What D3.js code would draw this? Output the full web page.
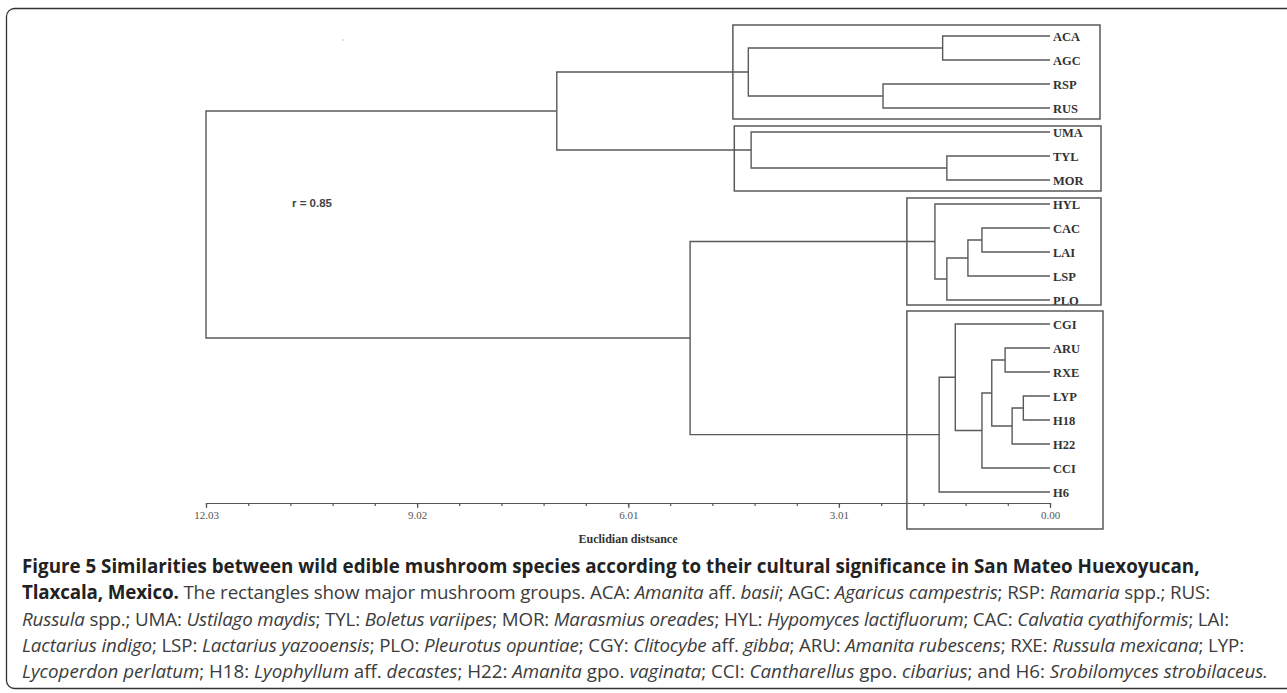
<!DOCTYPE html>
<html>
<head>
<meta charset="utf-8">
<script src="https://cdn.jsdelivr.net/npm/d3@7"></script>
<style>
body { margin: 0; background: #fff; }
</style>
</head>
<body>
<div id="chart"></div>
<script>
// leaves, top to bottom
var leaves = ["ACA", "AGC", "RSP", "RUS", "UMA", "TYL", "MOR", "HYL", "CAC", "LAI",
              "LSP", "PLO", "CGI", "ARU", "RXE", "LYP", "H18", "H22", "CCI", "H6"];

// merge i joins mergeA[i] and mergeB[i] (a leaf or an earlier merge "n#") at mergeDist[i]
var mergeA = ["ACA", "RSP", "n0", "TYL", "UMA", "n2", "CAC", "n6", "n7", "HYL",
              "ARU", "LYP", "n11", "n10", "n13", "CGI", "n15", "n9", "n5"];
var mergeB = ["AGC", "RUS", "n1", "MOR", "n3", "n4", "LAI", "LSP", "PLO", "n8",
              "RXE", "H18", "H22", "n12", "CCI", "n14", "H6", "n16", "n17"];
var mergeDist = [1.53, 2.38, 4.30, 1.47, 4.26, 7.03, 0.97, 1.17, 1.47, 1.64,
                 0.64, 0.38, 0.54, 0.83, 0.97, 1.35, 1.58, 5.13, 12.03];

var tickValues = [12.03, 9.02, 6.01, 3.01, 0];
var tickLabels = ["12.03", "9.02", "6.01", "3.01", "0.00"];

// the rectangles around the major groups
var groupFirst = ["ACA", "UMA", "HYL", "CGI"];
var groupLast = ["RUS", "MOR", "PLO", "H6"];
var groupDist = [4.52, 4.50, 2.04, 2.04];

var width = 1287, height = 693;

var svg = d3.select("#chart")
  .append("svg")
  .attr("width", width)
  .attr("height", height);

// outer frame of the figure (runs off the right edge)
svg.append("rect")
  .attr("x", 6.5).attr("y", 8.5)
  .attr("width", 1320).attr("height", 680)
  .attr("rx", 8)
  .attr("fill", "none")
  .attr("stroke", "#333")
  .attr("stroke-width", 1.3);

var xScale = d3.scaleLinear().domain([12.03, 0]).range([206, 1050]);
var yScale = d3.scalePoint().domain(leaves).range([36, 492]);

// dendrogram branches
var pos = {};
leaves.forEach(function(l) { pos[l] = { y: yScale(l), d: 0 }; });

var tree = svg.append("g")
  .attr("fill", "none")
  .attr("stroke", "#5a5a5a")
  .attr("stroke-width", 1.4);

mergeDist.forEach(function(d, i) {
  var a = pos[mergeA[i]], b = pos[mergeB[i]];
  tree.append("path")
    .attr("d", "M" + xScale(a.d) + "," + a.y + "H" + xScale(d) + "V" + b.y + "H" + xScale(b.d));
  pos["n" + i] = { y: (a.y + b.y) / 2, d: d };
});

// leaf labels
svg.selectAll(".leaf")
  .data(leaves)
  .enter().append("text")
  .attr("class", "leaf")
  .attr("x", 1053)
  .attr("y", function(d) { return yScale(d) + 4.5; })
  .attr("font-family", "Liberation Serif")
  .attr("font-weight", "bold")
  .attr("font-size", "12.5px")
  .attr("fill", "#333")
  .text(function(d) { return d; });

// group rectangles
var padTop = [11, 6, 6, 13], padBottom = [11, 11, 5, 37], boxRight = [1100, 1101, 1101, 1103];
groupDist.forEach(function(d, i) {
  var x0 = xScale(d);
  var y0 = yScale(groupFirst[i]) - padTop[i];
  var y1 = yScale(groupLast[i]) + padBottom[i];
  svg.append("rect")
    .attr("x", x0).attr("y", y0)
    .attr("width", boxRight[i] - x0).attr("height", y1 - y0)
    .attr("fill", "none")
    .attr("stroke", "#5a5a5a")
    .attr("stroke-width", 1.5);
});

// x axis: minor ticks then labelled ticks
var axisY = 503;
var minorTicks = d3.range(21).map(function(i) { return i * 12.03 / 20; });

svg.append("g")
  .attr("transform", "translate(0," + axisY + ")")
  .call(d3.axisBottom(xScale).tickValues(minorTicks).tickSize(3).tickSizeOuter(0).tickFormat(""));

var gX = svg.append("g")
  .attr("transform", "translate(0," + axisY + ")")
  .call(d3.axisBottom(xScale).tickValues(tickValues).tickSize(5).tickSizeOuter(0).tickPadding(3)
    .tickFormat(function(d, i) { return tickLabels[i]; }));

svg.selectAll(".domain, .tick line")
  .attr("stroke", "#555")
  .attr("stroke-width", 1.2);
gX.selectAll("text")
  .attr("font-family", "Liberation Serif")
  .attr("font-size", "11px")
  .attr("fill", "#555");

svg.append("text")
  .attr("x", (xScale(12.03) + xScale(0)) / 2)
  .attr("y", 543)
  .attr("text-anchor", "middle")
  .attr("font-family", "Liberation Serif")
  .attr("font-weight", "bold")
  .attr("font-size", "12px")
  .attr("fill", "#333")
  .text("Euclidian distsance");

svg.append("text")
  .attr("x", 292)
  .attr("y", 207)
  .attr("font-family", "Liberation Sans")
  .attr("font-weight", "bold")
  .attr("font-size", "11.5px")
  .attr("fill", "#444")
  .text("r = 0.85");

svg.append("circle")
  .attr("cx", 343).attr("cy", 40).attr("r", 0.8)
  .attr("fill", "#bbb");

// caption; each part is [text, style] with b = bold, i = italic
var captionLines = [
  [["Figure 5 Similarities between wild edible mushroom species according to their cultural significance in San Mateo Huexoyucan,", "b"]],
  [["Tlaxcala, Mexico.", "b"], [" The rectangles show major mushroom groups. ACA: ", ""], ["Amanita", "i"], [" aff. ", ""], ["basii", "i"],
   ["; AGC: ", ""], ["Agaricus campestris", "i"], ["; RSP: ", ""], ["Ramaria", "i"], [" spp.; RUS:", ""]],
  [["Russula", "i"], [" spp.; UMA: ", ""], ["Ustilago maydis", "i"], ["; TYL: ", ""], ["Boletus variipes", "i"], ["; MOR: ", ""],
   ["Marasmius oreades", "i"], ["; HYL: ", ""], ["Hypomyces lactifluorum", "i"], ["; CAC: ", ""], ["Calvatia cyathiformis", "i"], ["; LAI:", ""]],
  [["Lactarius indigo", "i"], ["; LSP: ", ""], ["Lactarius yazooensis", "i"], ["; PLO: ", ""], ["Pleurotus opuntiae", "i"], ["; CGY: ", ""],
   ["Clitocybe", "i"], [" aff. ", ""], ["gibba", "i"], ["; ARU: ", ""], ["Amanita rubescens", "i"], ["; RXE: ", ""], ["Russula mexicana", "i"], ["; LYP:", ""]],
  [["Lycoperdon perlatum", "i"], ["; H18: ", ""], ["Lyophyllum", "i"], [" aff. ", ""], ["decastes", "i"], ["; H22: ", ""], ["Amanita", "i"],
   [" gpo. ", ""], ["vaginata", "i"], ["; CCI: ", ""], ["Cantharellus", "i"], [" gpo. ", ""], ["cibarius", "i"], ["; and H6: ", ""],
   ["Srobilomyces strobilaceus.", "i"]]
];
// right end of each caption line in the figure
var captionEnds = [1200, 1210, 1229, 1244, 1268];

var caption = svg.append("g")
  .attr("font-family", "Open Sans")
  .attr("font-size", "16px");

var lines = caption.selectAll("text")
  .data(captionLines)
  .enter().append("text")
  .attr("x", 22)
  .attr("y", function(d, i) { return 573 + i * 26.3; })
  .style("white-space", "pre");

lines.selectAll("tspan")
  .data(function(d) { return d; })
  .enter().append("tspan")
  .attr("font-weight", function(d) { return d[1] === "b" ? "bold" : "normal"; })
  .attr("font-style", function(d) { return d[1] === "i" ? "italic" : "normal"; })
  .attr("fill", function(d) { return d[1] === "b" ? "#222" : "#3c3c3c"; })
  .text(function(d) { return d[0]; });

// size the font from the first (bold) line, then nudge letter spacing of the others
var firstLen = lines.node().getComputedTextLength();
caption.attr("font-size", (16 * (captionEnds[0] - 22) / firstLen).toFixed(2) + "px");
lines.each(function(d, i) {
  if (i === 0) return;
  var el = d3.select(this);
  var len = this.getComputedTextLength();
  var chars = el.text().length;
  el.style("letter-spacing", ((captionEnds[i] - 22 - len) / chars).toFixed(3) + "px");
});
</script>
</body>
</html>
